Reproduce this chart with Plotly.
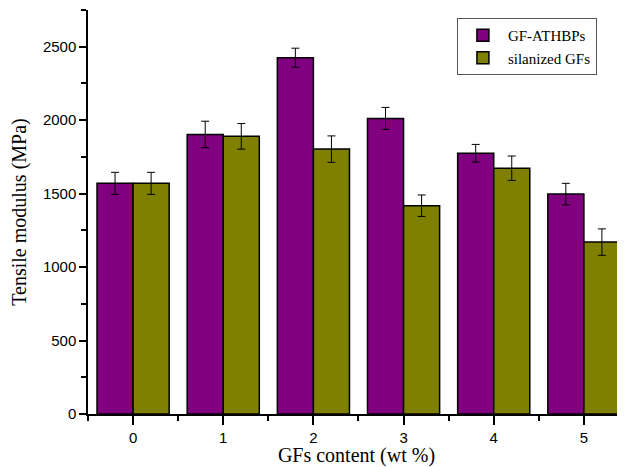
import plotly.graph_objects as go

categories = [0, 1, 2, 3, 4, 5]
gf_athbps = [1570, 1903, 2425, 2012, 1775, 1497]
gf_athbps_err = [75, 90, 65, 75, 60, 73]
silanized = [1570, 1890, 1803, 1418, 1673, 1170]
silanized_err = [75, 87, 90, 73, 83, 90]

y_major = [0, 500, 1000, 1500, 2000, 2500]
y_minor = [250, 750, 1250, 1750, 2250, 2750]
x_minor = [-0.5, 0.5, 1.5, 2.5, 3.5, 4.5]

fig = go.Figure()
fig.add_trace(go.Bar(
    x=categories, y=gf_athbps, name="GF-ATHBPs",
    marker=dict(color="#800080", line=dict(color="black", width=1.5)),
    error_y=dict(type="data", array=gf_athbps_err, color="black", thickness=1, width=4),
))
fig.add_trace(go.Bar(
    x=categories, y=silanized, name="silanized GFs",
    marker=dict(color="#808000", line=dict(color="black", width=1.5)),
    error_y=dict(type="data", array=silanized_err, color="black", thickness=1, width=4),
))

fig.update_layout(
    width=617, height=459,
    margin=dict(l=80, r=0, t=2, b=53),
    paper_bgcolor="white", plot_bgcolor="white",
    barmode="group", bargap=0.2, bargroupgap=0,
    showlegend=True,
    legend=dict(
        x=0.687, y=0.98, xanchor="left", yanchor="top",
        bgcolor="white", bordercolor="#555555", borderwidth=1,
        font=dict(family="Liberation Serif", size=15, color="black"),
        tracegroupgap=4, itemwidth=40,
    ),
    font=dict(family="Liberation Sans", size=15, color="black"),
)

fig.update_xaxes(
    range=[-0.5, 5.456], tickvals=categories, ticktext=[str(c) for c in categories],
    ticks="outside", ticklen=9, tickwidth=1.5, tickcolor="black",
    showline=True, linecolor="black", linewidth=1.5,
    showgrid=False, zeroline=False,
    tickfont=dict(family="Liberation Sans", size=15),
    minor=dict(tickvals=x_minor, ticks="outside", ticklen=5, tickwidth=1.5, tickcolor="black", showgrid=False),
    title=dict(text="GFs content (wt %)", font=dict(family="Liberation Serif", size=20), standoff=0),
    automargin=False,
)
fig.update_yaxes(
    range=[0, 2750], tickvals=y_major,
    ticks="outside", ticklen=7, tickwidth=1.5, tickcolor="black",
    showline=True, linecolor="black", linewidth=1.5,
    showgrid=False, zeroline=False,
    tickfont=dict(family="Liberation Sans", size=15),
    minor=dict(tickvals=y_minor, ticks="outside", ticklen=5, tickwidth=1.5, tickcolor="black", showgrid=False),
    title=dict(text="Tensile modulus (MPa)", font=dict(family="Liberation Serif", size=20), standoff=12),
    automargin=False,
)

fig.write_html("out.html")
